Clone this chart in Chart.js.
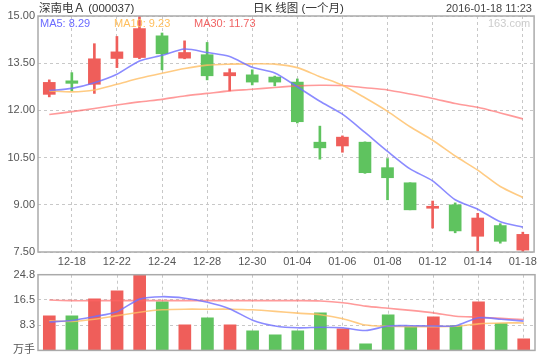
<!DOCTYPE html>
<html><head><meta charset="utf-8">
<script src="https://cdn.jsdelivr.net/npm/chart.js@4.4.1/dist/chart.umd.min.js"></script>
<style>
html,body{margin:0;padding:0;background:#fff;}
#wrap{position:relative;width:540px;height:360px;overflow:hidden;font-family:"Liberation Sans","Noto Sans CJK SC",sans-serif;}
canvas{position:absolute;left:0;}
.t{position:absolute;white-space:nowrap;font-size:11px;line-height:12px;}
</style></head><body>
<div id="wrap">
<canvas id="main" width="540" height="270" style="top:0"></canvas>
<canvas id="vol" width="540" height="98" style="top:262px"></canvas>
<div class="t" style="left:39px;top:1px;color:#333;font-size:11.5px;line-height:14px;">深南电Ａ (000037)</div>
<div class="t" style="left:253px;top:1px;color:#333;font-size:11.5px;line-height:14px;">日K 线图 (一个月)</div>
<div class="t" style="right:8px;top:2px;color:#444;">2016-01-18 11:23</div>
<div class="t" style="left:40px;top:17px;color:#6b6bff;">MA5: 8.29</div>
<div class="t" style="left:114px;top:17px;color:#ffbe5c;">MA10: 9.23</div>
<div class="t" style="left:194px;top:17px;color:#f06464;">MA30: 11.73</div>
<div class="t" style="left:488px;top:17px;color:#cccccc;">163.com</div>
</div>
<script>
const dates = ['12-17','12-18','12-21','12-22','12-23','12-24','12-25','12-28','12-29','12-30','12-31','01-04','01-05','01-06','01-07','01-08','01-11','01-12','01-13','01-14','01-15','01-18'];
const xTickLabels = ['','12-18','','12-22','','12-24','','12-28','','12-30','','01-04','','01-06','','01-08','','01-12','','01-14','','01-18'];
const openP  = [12.51,12.94,12.83,13.65,13.68,14.37,13.66,13.77,13.10,13.13,13.06,12.90,10.99,10.87,10.99,10.18,9.70,8.89,9.00,8.00,8.34,7.56];
const closeP = [12.89,12.86,13.64,13.86,14.60,13.80,13.84,13.10,13.20,12.90,12.90,11.64,10.81,11.15,10.02,9.86,8.84,8.91,8.17,8.58,7.84,8.06];
const highP  = [12.97,13.20,14.12,14.35,14.99,14.46,14.21,14.16,13.32,13.29,13.09,13.00,11.50,11.19,11.00,10.47,9.70,9.12,9.06,8.73,8.40,8.13];
const lowP   = [12.43,12.62,12.54,13.36,13.64,13.29,13.64,12.97,12.62,12.81,12.78,11.60,10.45,10.67,10.00,9.16,8.84,8.26,8.11,7.52,7.78,7.50];
const ma5  = [12.63,12.70,12.88,13.15,13.57,13.75,13.95,13.84,13.71,13.37,13.19,12.75,12.29,11.88,11.30,10.70,10.14,9.76,9.16,8.86,8.46,8.29];
const ma10 = [12.62,12.59,12.65,12.83,13.02,13.18,13.33,13.44,13.47,13.48,13.47,13.36,13.07,12.80,12.40,11.97,11.48,11.05,10.55,10.10,9.58,9.23];
const ma30 = [11.87,11.96,12.06,12.17,12.27,12.35,12.46,12.54,12.62,12.67,12.73,12.78,12.80,12.79,12.72,12.65,12.52,12.38,12.22,12.10,11.92,11.73];
const priceTicks = [7.5,9,10.5,12,13.5,15];
const volume = [11.32,11.32,16.87,19.48,24.80,15.89,8.38,10.67,8.38,6.43,5.12,6.43,12.30,7.08,2.19,11.65,7.73,11.00,8.10,15.89,8.75,3.82];
const vma5  = [9.3,9.8,11.1,12.7,16.8,17.6,17.1,15.8,13.6,9.9,8.0,7.4,7.6,7.4,6.5,8.0,8.1,8.0,8.1,10.7,10.2,9.6];
const vma10 = [9.7,9.5,10.2,11.4,12.5,13.3,13.5,13.5,13.5,13.3,12.8,12.2,11.7,10.4,8.3,7.9,7.8,7.8,7.9,8.7,9.0,9.0];
const vma30 = [16.5,16.3,16.3,16.3,16.3,16.3,16.3,16.3,16.3,16.3,16.3,16.3,16.2,15.6,14.5,13.8,13.1,12.3,11.2,10.9,10.5,10.1];
const volTicks = [0,8.2667,16.5333,24.8];
const volTickLabels = ['万手','8.3','16.5','24.8'];

const RED = '#ef5e5a', GREEN = '#5fc35f';
const candleColors = closeP.map((c,i) => c >= openP[i] ? RED : GREEN);
const FONT = {family:'"Liberation Sans","Noto Sans CJK SC",sans-serif', size:11};
const GRID = '#c8c8c8';
const BLUE_L = 'rgba(110,110,255,0.8)', ORANGE_L = 'rgba(255,190,100,0.8)', RED_L = 'rgba(255,100,100,0.65)';

const frame = {
  id:'frame',
  afterDraw(chart){
    const {ctx, chartArea:a} = chart;
    ctx.save();
    ctx.strokeStyle = '#aaa';
    ctx.lineWidth = 1.5;
    ctx.strokeRect(a.left, a.top, a.right-a.left, a.bottom-a.top);
    ctx.restore();
  }
};
const lineDs = (d,c) => ({type:'line', data:d, borderColor:c, borderWidth:1.6, pointRadius:0, tension:0.25, fill:false, order:0});
const xScale = (showTicks, h) => ({
  offset:true,
  grid:{offset:false, drawTicks:false, color: ctx => xTickLabels[ctx.index] ? GRID : 'rgba(0,0,0,0)', borderDash:[3,3]},
  border:{display:false, dash:[3,3]},
  ticks:{display:showTicks, autoSkip:false, maxRotation:0, minRotation:0, padding:3, color:'#555', font:FONT, callback:(v,i)=>xTickLabels[i]},
  afterFit: s => { s.height = h; }
});
const common = {
  responsive:false, animation:false, events:[],
  plugins:{legend:{display:false}, tooltip:{enabled:false}}
};

new Chart(document.getElementById('main'), {
  type:'bar',
  data:{labels:dates, datasets:[
    lineDs(ma5, BLUE_L), lineDs(ma10, ORANGE_L), lineDs(ma30, RED_L),
    {data: openP.map((o,i)=>[o, closeP[i]]), backgroundColor:candleColors, barThickness:12, minBarLength:2, grouped:false, order:1},
    {data: lowP.map((l,i)=>[l, highP[i]]), backgroundColor:candleColors, barThickness:2, grouped:false, order:2}
  ]},
  options:Object.assign({}, common, {
    layout:{padding:{top:16, right:5, left:0, bottom:0}},
    scales:{
      x: xScale(true, 18),
      y:{min:7.5, max:15,
         afterBuildTicks: s => { s.ticks = priceTicks.map(v=>({value:v})); },
         grid:{color:GRID, drawTicks:false, borderDash:[3,3]},
         border:{display:false, dash:[3,3]},
         ticks:{padding:3, color:'#555', font:FONT, callback:v=>Number(v).toFixed(2)},
         afterFit: s => { s.width = 38; }}
    }
  }),
  plugins:[frame]
});

new Chart(document.getElementById('vol'), {
  type:'bar',
  data:{labels:dates, datasets:[
    lineDs(vma5, BLUE_L), lineDs(vma10, ORANGE_L), lineDs(vma30, RED_L),
    {data:volume, backgroundColor:candleColors, barThickness:12, order:1}
  ]},
  options:Object.assign({}, common, {
    layout:{padding:{top:12.7, right:5, left:0, bottom:0}},
    scales:{
      x: xScale(false, 9),
      y:{min:0, max:24.8,
         afterBuildTicks: s => { s.ticks = volTicks.map(v=>({value:v})); },
         grid:{color:GRID, drawTicks:false, borderDash:[3,3]},
         border:{display:false, dash:[3,3]},
         ticks:{padding:3, color:'#555', font:FONT, callback:(v,i)=>volTickLabels[i]},
         afterFit: s => { s.width = 38; }}
    }
  }),
  plugins:[frame]
});
</script>
</body></html>
